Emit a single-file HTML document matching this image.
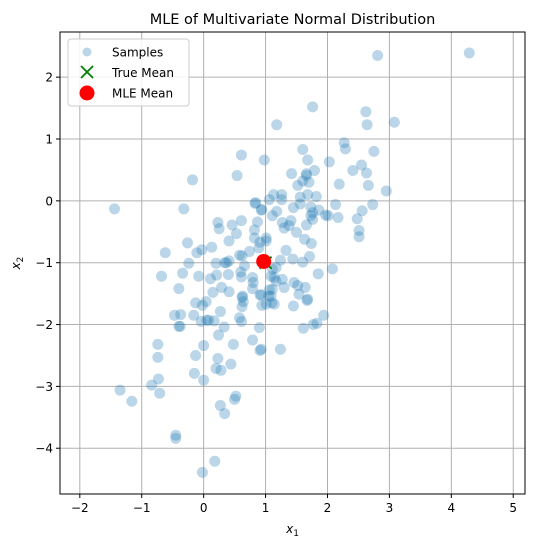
<!DOCTYPE html>
<html><head><meta charset="utf-8"><style>
body{margin:0;background:#fff;}
svg text{font-family:"DejaVu Sans","Liberation Sans",sans-serif;fill:#000;}
</style></head><body>
<svg id="chart" width="535" height="548" xmlns="http://www.w3.org/2000/svg">
<rect width="535" height="548" fill="#fff"/>
<text x="292.5" y="24" font-size="14.5" text-anchor="middle">MLE of Multivariate Normal Distribution</text>
<g id="grid"></g>
<g id="ticks"></g>
<g id="points"></g>
<g id="means"></g>
<rect x="60" y="32" width="465" height="462" fill="none" stroke="#000" stroke-width="1"/>
<text x="292.5" y="533" font-size="12" text-anchor="middle" font-style="italic">x<tspan font-size="9" dy="3" font-style="normal">1</tspan></text>
<text transform="translate(20,263) rotate(-90)" font-size="12" text-anchor="middle" font-style="italic">x<tspan font-size="9" dy="3" font-style="normal">2</tspan></text>
<g>
<rect x="68" y="39" width="121" height="67" rx="3" fill="#fff" fill-opacity="0.85" stroke="#ccc"/>
<circle cx="87" cy="52" r="4.5" fill="#1f77b4" fill-opacity="0.3"/>
<text x="112" y="56.5" font-size="12">Samples</text>
<path d="M81 66 L93 78 M93 66 L81 78" stroke="green" stroke-width="1.8"/>
<text x="112" y="77" font-size="12">True Mean</text>
<circle cx="87" cy="93" r="7.5" fill="red"/>
<text x="112" y="97.5" font-size="12">MLE Mean</text>
</g>
</svg>
<script>
const xTicks=[-2,-1,0,1,2,3,4,5];
const yTicks=[2,1,0,-1,-2,-3,-4];
const sampleX=[-1.44,-0.32,-0.18,0.23,0.25,-0.26,-0.62,-0.11,-0.03,0.13,-0.24,0.20,0.34,0.37,-0.68,-0.34,-0.08,0.11,0.21,0.40,-0.40,0.29,0.41,0.15,
2.81,4.29,1.76,1.18,2.62,2.64,3.08,2.27,2.29,2.75,0.61,0.98,0.54,0.83,0.94,1.60,1.68,2.03,1.42,1.66,1.66,1.79,2.41,2.55,2.63,1.52,1.60,1.70,2.19,2.66,2.95,1.13,1.26,1.26,1.06,1.56,1.68,1.82,0.84,0.93,1.45,1.56,1.73,1.86,1.76,1.97,2.01,1.73,1.76,2.13,2.17,2.73,2.56,2.48,2.51,2.51,1.18,1.11,0.61,0.46,0.53,0.87,0.82,0.82,0.91,1.01,1.01,0.89,1.27,1.41,1.30,1.38,1.50,1.66,1.63,1.74,1.33,1.71,1.44,1.60,1.24,0.74,0.58,0.62,0.41,0.41,0.66,0.60,0.61,2.08,1.85,1.11,1.17,1.09,1.14,1.17,0.79,0.80,0.79,1.27,1.30,1.46,1.52,1.54,1.64,1.06,1.11,0.93,0.63,1.09,1.68,
-0.13,0.04,-0.02,-0.47,-0.37,-0.16,0.27,0.62,0.64,0.62,0.94,1.01,1.10,1.14,1.05,0.91,1.45,1.67,-0.04,0.05,0.08,0.17,-0.40,-0.38,0.33,0.58,0.61,0.90,1.61,1.77,1.83,1.94,0.24,-0.74,0.0,0.48,0.79,0.93,0.91,1.24,-0.74,-0.13,0.23,0.44,0.20,0.28,-0.15,0,-0.73,-0.84,-0.71,-1.35,-1.16,0.52,0.50,0.27,0.34,-0.45,-0.45,0.18,-0.02];
const sampleY=[-0.13,-0.13,0.34,-0.35,-0.45,-0.68,-0.84,-0.84,-0.79,-0.75,-1.01,-1.01,-1.0,-1.0,-1.22,-1.17,-1.22,-1.26,-1.20,-1.19,-1.42,-1.40,-1.47,-1.48,
2.35,2.39,1.52,1.23,1.44,1.23,1.27,0.94,0.84,0.80,0.74,0.66,0.41,-0.04,-0.14,0.83,0.66,0.63,0.44,0.44,0.41,0.49,0.49,0.58,0.45,0.25,0.32,0.30,0.27,0.25,0.16,0.10,0.10,0.02,0.02,0.06,0.10,0.07,-0.03,-0.15,-0.11,-0.05,-0.10,-0.15,-0.19,-0.23,-0.24,-0.24,-0.30,-0.06,-0.27,-0.06,-0.16,-0.29,-0.48,-0.58,-0.17,-0.24,-0.32,-0.39,-0.53,-0.34,-0.47,-0.60,-0.67,-0.60,-0.65,-0.76,-0.35,-0.32,-0.44,-0.40,-0.51,-0.39,-0.62,-0.69,-0.80,-0.90,-0.94,-0.99,-0.96,-0.82,-0.88,-0.89,-0.65,-0.97,-1.05,-1.15,-1.23,-1.10,-1.18,-1.10,-1.08,-1.22,-1.24,-1.30,-1.24,-1.32,-1.42,-1.27,-1.40,-1.32,-1.37,-1.51,-1.40,-1.44,-1.43,-1.52,-1.54,-1.54,-1.59,
-1.65,-1.63,-1.69,-1.85,-1.84,-1.85,-1.79,-1.56,-1.63,-1.71,-1.69,-1.67,-1.65,-1.67,-1.54,-1.52,-1.70,-1.61,-1.95,-1.93,-1.93,-1.94,-2.03,-2.03,-2.04,-1.89,-1.95,-2.05,-2.06,-2.0,-1.98,-1.85,-2.17,-2.32,-2.34,-2.32,-2.25,-2.40,-2.42,-2.40,-2.53,-2.50,-2.55,-2.64,-2.71,-2.74,-2.79,-2.90,-2.88,-2.98,-3.11,-3.06,-3.24,-3.16,-3.21,-3.31,-3.44,-3.79,-3.84,-4.21,-4.39];
const trueMean=[1.0,-1.0];
const mleMean=[0.97,-0.98];
const NS="http://www.w3.org/2000/svg";
const X0=60,X1=525,Y0=32,Y1=494;
const xMin=-2.32,xMax=5.19,yMin=-4.74,yMax=2.73;
function sx(v){return X0+(v-xMin)/(xMax-xMin)*(X1-X0);}
function sy(v){return Y1-(v-yMin)/(yMax-yMin)*(Y1-Y0);}
function mk(tag,attrs,parent){const e=document.createElementNS(NS,tag);for(const k in attrs)e.setAttribute(k,attrs[k]);parent.appendChild(e);return e;}
const grid=document.getElementById('grid'),ticks=document.getElementById('ticks');
xTicks.forEach(t=>{const x=sx(t);
 const g=mk('line',{x1:x,x2:x,y1:Y0,y2:Y1,stroke:'#b0b0b0','stroke-width':1},grid);
 
 
 const tk=mk('line',{x1:x,x2:x,y1:Y1,y2:Y1+4,stroke:'#000'},ticks);
 
 
 const tx=mk('text',{x:x,y:Y1+18,'font-size':12,'text-anchor':'middle'},ticks);tx.textContent=(t<0?'\u2212'+(-t):t);
 
 
});
yTicks.forEach(t=>{const y=sy(t);
 const g=mk('line',{x1:X0,x2:X1,y1:y,y2:y,stroke:'#b0b0b0','stroke-width':1},grid);
 
 
 const tk=mk('line',{x1:X0-4,x2:X0,y1:y,y2:y,stroke:'#000'},ticks);
 
 
 const tx=mk('text',{x:X0-7,y:y+4.5,'font-size':12,'text-anchor':'end'},ticks);tx.textContent=(t<0?'\u2212'+(-t):t);
 
 
});
const pts=document.getElementById('points');
sampleX.forEach((v,i)=>{
 const c=mk('circle',{cx:sx(v),cy:sy(sampleY[i]),r:5.5,fill:'#1f77b4','fill-opacity':0.3},pts);
 
 
});
const means=document.getElementById('means');
const tx=sx(trueMean[0]),ty=sy(trueMean[1]);
const tm=mk('path',{d:`M${tx-6} ${ty-6} L${tx+6} ${ty+6} M${tx+6} ${ty-6} L${tx-6} ${ty+6}`,stroke:'green','stroke-width':1.8},means);


const mm=mk('circle',{cx:sx(mleMean[0]),cy:sy(mleMean[1]),r:7.5,fill:'red'},means);


</script>
</body></html>
